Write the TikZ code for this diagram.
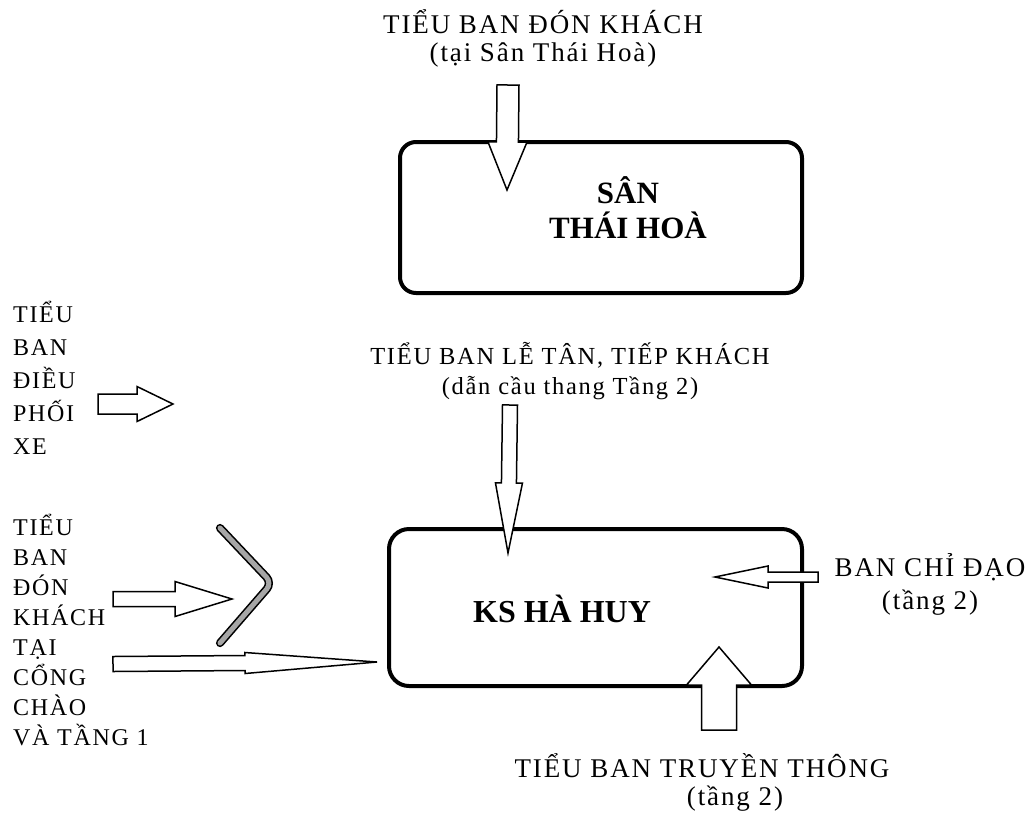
\documentclass[tikz,border=0pt]{standalone}
\usepackage{fontspec}
\setmainfont{Liberation Serif}
\newfontfamily\labelfont[LetterSpace=7]{Liberation Serif}
\usetikzlibrary{calc,positioning}

\begin{document}
\begin{tikzpicture}[x=1pt,y=-1pt,
    lbl/.style={align=center,inner sep=0pt,font=\labelfont\fontsize{27}{28}\selectfont},
    col/.style={align=left,inner sep=0pt,anchor=west,font=\labelfont\fontsize{24}{30}\selectfont},
    room/.style={draw,line width=4pt,rounded corners=16pt,inner sep=0pt},
    roomtxt/.style={align=center,inner sep=0pt,font=\bfseries\fontsize{31}{35}\selectfont},
    chev/.style={draw,double=black!35,double distance=5pt,line width=1.6pt,line cap=round,rounded corners=8pt},
    blockarrow/.style n args={3}{draw,fill=white,line width=1.5pt,
      to path={($(\tikztostart)!#1!90:(\tikztotarget)$)
        -- ($($(\tikztotarget)!#3!(\tikztostart)$)!#1!90:(\tikztotarget)$)
        -- ($($(\tikztotarget)!#3!(\tikztostart)$)!#2!90:(\tikztotarget)$)
        -- (\tikztotarget)
        -- ($($(\tikztotarget)!#3!(\tikztostart)$)!#2!-90:(\tikztotarget)$)
        -- ($($(\tikztotarget)!#3!(\tikztostart)$)!#1!-90:(\tikztotarget)$)
        -- ($(\tikztostart)!#1!-90:(\tikztotarget)$)
        -- cycle}}]
  \useasboundingbox (0,0) rectangle (1033,815);

  % the two places
  \node[room,minimum width=402pt,minimum height=151pt] (san) at (601,217.5) {};
  \node[roomtxt] (santxt) at (628,208) {SÂN\\THÁI HOÀ};
  \node[room,minimum width=413pt,minimum height=157pt,rounded corners=20pt] (ks) at (595.5,607.5) {};
  \node[roomtxt,font=\bfseries\fontsize{32}{36}\selectfont] (kstxt) at (562,609) {KS HÀ HUY};

  % the teams
  \node[lbl] (don) at (543,38) {TIỂU BAN ĐÓN KHÁCH\\(tại Sân Thái Hoà)};
  \node[lbl,font=\labelfont\fontsize{24.5}{30}\selectfont] (letan) at (570,371) {TIỂU BAN LỄ TÂN, TIẾP KHÁCH\\(dẫn cầu thang Tầng 2)};
  \node[lbl,font=\labelfont\fontsize{27}{33}\selectfont] (chidao) at (930,584) {BAN CHỈ ĐẠO\\(tầng 2)};
  \node[lbl] (truyen) at (702,782) {TIỂU BAN TRUYỀN THÔNG\\\hspace*{66pt}(tầng 2)};
  \node[col,font=\labelfont\fontsize{24}{33}\selectfont] (dieuphoi) at (13,378) {TIỂU\\BAN\\ĐIỀU\\PHỐI\\XE};
  \node[col] (doncong) at (13,630) {TIỂU\\BAN\\ĐÓN\\KHÁCH\\TẠI\\CỔNG\\CHÀO\\VÀ TẦNG 1};

  % arrow ends
  \coordinate (don-s) at (508,85);   \coordinate (don-e) at (507,190);
  \coordinate (letan-s) at (510,405); \coordinate (letan-e) at (508,553);
  \coordinate (chidao-s) at (818,577); \coordinate (chidao-e) at (715,577);
  \coordinate (truyen-s) at (719,730); \coordinate (truyen-e) at (719,647);
  \coordinate (dieuphoi-s) at (98,404); \coordinate (dieuphoi-e) at (173,404);
  \coordinate (cong-s) at (113,599); \coordinate (cong-e) at (232,599);
  \coordinate (tang-s) at (113,664); \coordinate (tang-e) at (377,662);

  \draw[chev] (220,528) -- (272,583) -- (220,643);

  \foreach \from/\sw/\hw/\hl in {don/11pt/19.5pt/48pt, letan/7.5pt/13.5pt/70pt,
      chidao/5pt/11pt/53pt, truyen/17.5pt/32.5pt/38pt, dieuphoi/10pt/17.5pt/36pt,
      cong/7.5pt/17.5pt/57pt, tang/7.5pt/10.5pt/132pt}
    \draw[blockarrow={\sw}{\hw}{\hl}] (\from-s) to (\from-e);
\end{tikzpicture}
\end{document}
